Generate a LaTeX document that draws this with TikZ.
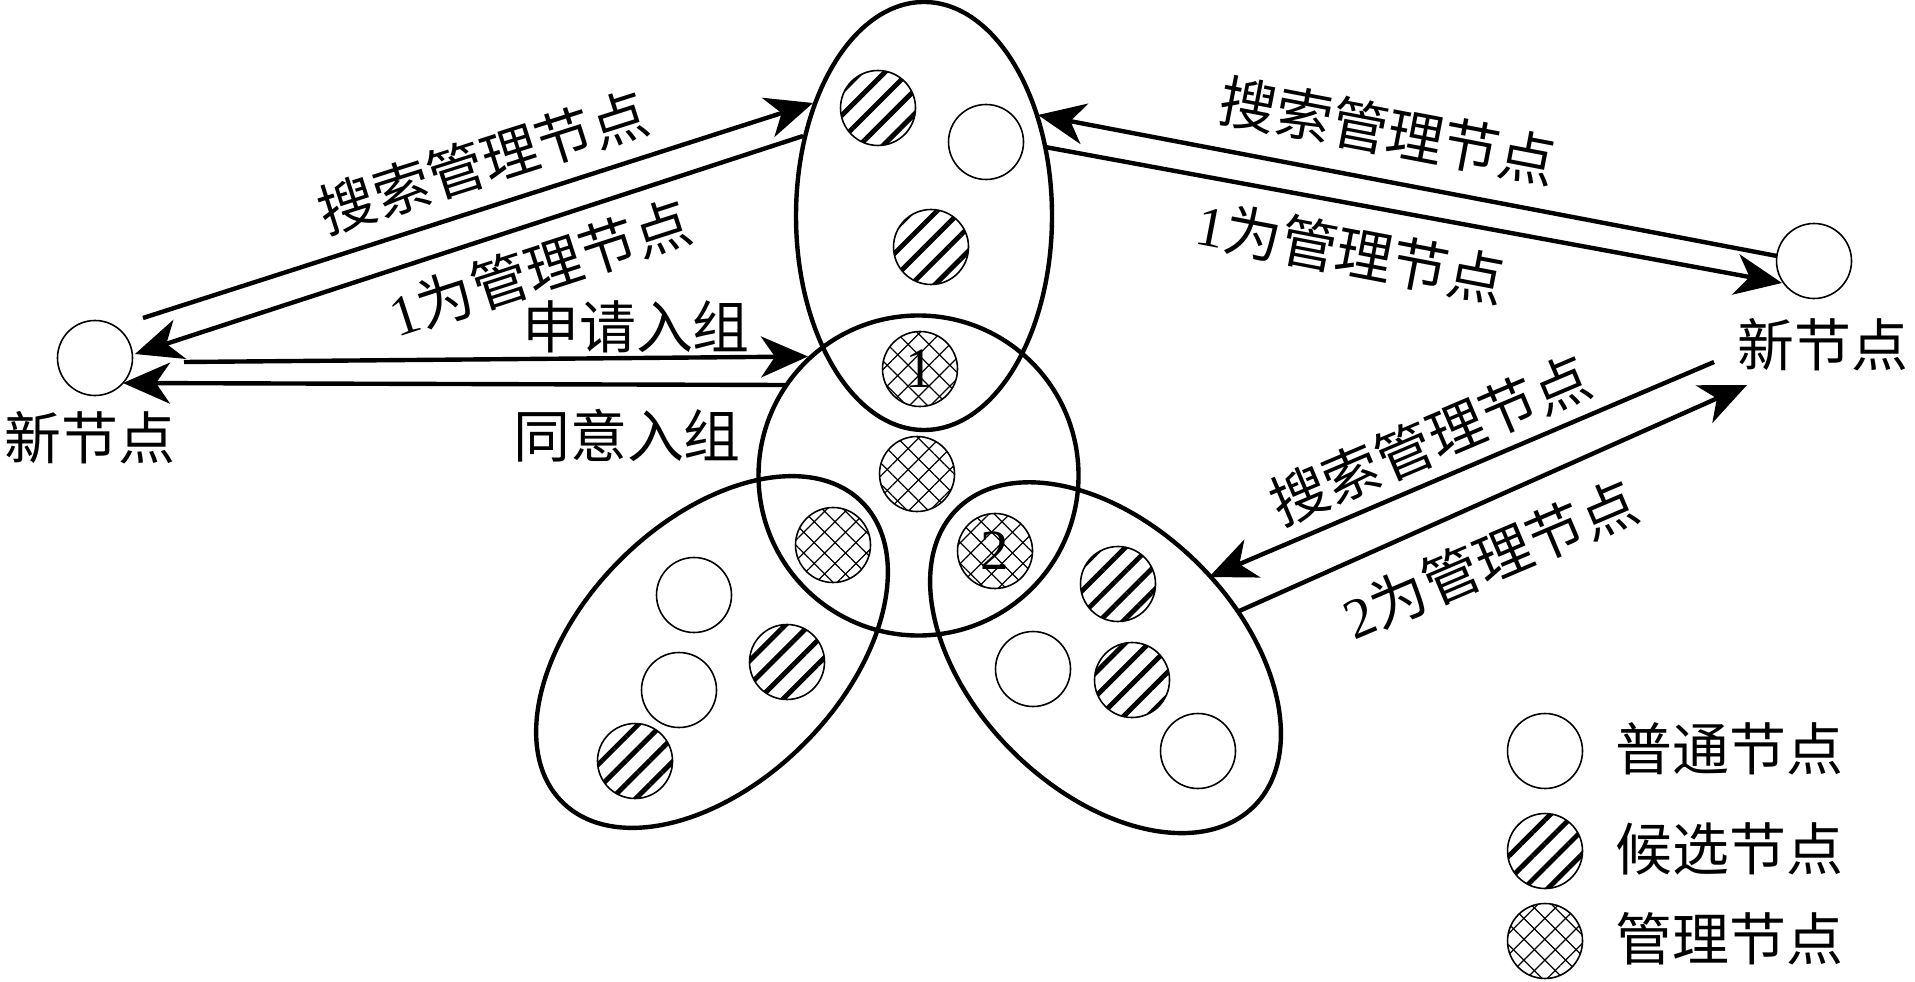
\documentclass[tikz,border=0pt]{standalone}
\usepackage{fontspec}
\setmainfont{Liberation Serif}
\newfontfamily\cjk{Noto Sans CJK SC}
\usetikzlibrary{arrows.meta}
\usetikzlibrary{shapes.geometric}
\usetikzlibrary{patterns.meta}

\tikzset{
  plain/.style={circle, draw, line width=0.45pt, minimum size=0.75cm, inner sep=0pt},
  cand/.style={plain, pattern={Lines[angle=45,distance=4.8pt,line width=1.4pt]}},
  mgr/.style={plain, font=\fontsize{16.2pt}{19pt}\selectfont,
    preaction={pattern={Lines[angle=-45,distance=4.2pt,line width=0.35pt]}},
    pattern={Lines[angle=45,distance=4.2pt,line width=0.35pt]}},
  grp/.style={ellipse, draw, line width=1.25pt, inner sep=0pt},
  msg/.style={-{Stealth[length=4.7mm,width=4.1mm,inset=1.4mm]}, line width=1.25pt},
  lbl/.style={font=\fontsize{16.2pt}{19pt}\selectfont\cjk, inner sep=0pt}
}

\begin{document}
\begin{tikzpicture}
\useasboundingbox (0,0) rectangle (19.15,9.81);

\node[grp, minimum width=2.56cm, minimum height=4.28cm] (g1) at (9.24,7.65) {};
\node[grp, circle, minimum size=3.2cm] (g0) at (9.185,5.055) {};
\node[grp, minimum width=4.24cm, minimum height=2.6cm, rotate=45] (g2) at (7.12,3.29) {};
\node[grp, minimum width=4.2cm, minimum height=2.64cm, rotate=-45] (g3) at (11.055,3.233) {};

\node[cand] (a1) at (8.78,8.73) {};
\node[plain] (a2) at (9.86,8.39) {};
\node[cand] (a3) at (9.31,7.34) {};
\node[mgr] (m1) at (9.20,6.12) {1};
\node[mgr] (m0) at (9.17,5.07) {};
\node[mgr] (m3) at (8.33,4.36) {};
\node[mgr] (m2) at (9.95,4.30) {2};
\node[plain] (b1) at (6.94,3.86) {};
\node[cand] (b2) at (7.87,3.19) {};
\node[plain] (b3) at (6.79,2.91) {};
\node[cand] (b4) at (6.35,2.20) {};
\node[cand] (c1) at (11.18,3.97) {};
\node[plain] (c2) at (10.33,3.12) {};
\node[cand] (c3) at (11.32,3.01) {};
\node[plain] (c4) at (11.98,2.30) {};

\node[plain] (nl) at (0.95,6.23) {};
\node[plain] (nr) at (18.14,7.20) {};
\node[lbl] (nltxt) at (0.90,5.43) {新节点};
\node[lbl] (nrtxt) at (18.23,6.36) {新节点};

\coordinate (s1) at (1.43,6.63);   \coordinate (e1) at (8.13,8.78);
\coordinate (s2) at (8.03,8.45);   \coordinate (e2) at (1.35,6.27);
\coordinate (s3) at (1.84,6.19);   \coordinate (e3) at (8.08,6.245);
\coordinate (s4) at (7.85,5.96);   \coordinate (e4) at (1.23,5.98);
\coordinate (s5) at (17.77,7.25);  \coordinate (e5) at (10.38,8.66);
\coordinate (s6) at (10.45,8.34);  \coordinate (e6) at (17.82,6.98);
\coordinate (s7) at (17.14,6.19);  \coordinate (e7) at (12.09,4.04);
\coordinate (s8) at (12.37,3.69);  \coordinate (e8) at (17.47,5.96);
\draw[msg] (s1) -- (e1);
\draw[msg] (s2) -- (e2);
\draw[msg] (s3) -- (e3);
\draw[msg] (s4) -- (e4);
\draw[msg] (s5) -- (e5);
\draw[msg] (s6) -- (e6);
\draw[msg] (s7) -- (e7);
\draw[msg] (s8) -- (e8);

\node[lbl, rotate=17.7] (t1) at (4.83,8.19) {搜索管理节点};
\node[lbl, rotate=18] (t2) at (5.40,7.13) {{\rmfamily 1}为管理节点};
\node[lbl] (t3) at (6.36,6.54) {申请入组};
\node[lbl] (t4) at (6.27,5.45) {同意入组};
\node[lbl, rotate=-10.8] (t5) at (13.88,8.50) {搜索管理节点};
\node[lbl, rotate=-10.8] (t6) at (13.51,7.29) {{\rmfamily 1}为管理节点};
\node[lbl, rotate=23] (t7) at (14.30,5.41) {搜索管理节点};
\node[lbl, rotate=23] (t8) at (14.90,4.22) {{\rmfamily 2}为管理节点};

\node[plain] (k1) at (15.45,2.30) {};
\node[cand] (k2) at (15.45,1.30) {};
\node[mgr] (k3) at (15.45,0.40) {};
\node[lbl, anchor=west] (k1txt) at (16.15,2.32) {普通节点};
\node[lbl, anchor=west] (k2txt) at (16.15,1.32) {候选节点};
\node[lbl, anchor=west] (k3txt) at (16.15,0.42) {管理节点};
\end{tikzpicture}
\end{document}
